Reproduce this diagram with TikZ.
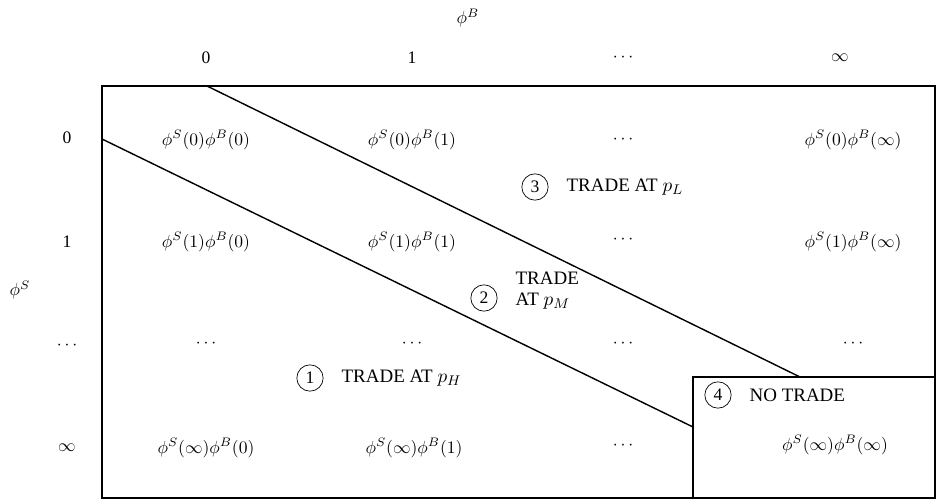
\documentclass[tikz,border=0pt]{standalone}
\usepackage{fontspec}
\setmainfont{Liberation Serif}
\usetikzlibrary{positioning}

\begin{document}
\begin{tikzpicture}[x=0.02cm,y=-0.02cm,
  frame/.style={line width=1pt},
  split/.style={line width=0.8pt},
  num/.style={draw,circle,inner sep=0pt,minimum size=15pt},
  lbl/.style={anchor=west,inner sep=1pt,align=left,font=\fontsize{10.8}{12}\selectfont}]
\useasboundingbox (0,0) rectangle (936,500);
% axes
\node (phiB) at (468,18) {$\phi^B$};
\node (phiS) at (20,290) {$\phi^S$};
\node (c0) at (206,58) {0};
\node (c1) at (412,58) {1};
\node (c2) at (623,58) {$\cdots$};
\node (c3) at (840,58) {$\infty$};
\node (r0) at (67,138) {0};
\node (r1) at (67,242) {1};
\node (r2) at (67,346) {$\cdots$};
\node (r3) at (67,448) {$\infty$};
% frame and regions
\draw[frame] (102,86) coordinate (tl) rectangle (935,498) coordinate (br);
\draw[frame] (693,377) coordinate (btl) rectangle (935,498) coordinate (bbr);
\coordinate (a1) at (102,139);
\coordinate (a2) at (693,427);
\coordinate (b1) at (207,86);
\coordinate (b2) at (800,377);
\draw[split] (a1) -- (a2);
\draw[split] (b1) -- (b2);
% cells
\node (s00) at (206,140) {$\phi^S(0)\phi^B(0)$};
\node (s01) at (412,140) {$\phi^S(0)\phi^B(1)$};
\node (s02) at (623,140) {$\cdots$};
\node (s03) at (853,140) {$\phi^S(0)\phi^B(\infty)$};
\node (s10) at (206,242) {$\phi^S(1)\phi^B(0)$};
\node (s11) at (412,242) {$\phi^S(1)\phi^B(1)$};
\node (s12) at (623,240) {$\cdots$};
\node (s13) at (853,242) {$\phi^S(1)\phi^B(\infty)$};
\node (s20) at (206,344) {$\cdots$};
\node (s21) at (412,344) {$\cdots$};
\node (s22) at (623,344) {$\cdots$};
\node (s23) at (853,344) {$\cdots$};
\node (s30) at (206,448) {$\phi^S(\infty)\phi^B(0)$};
\node (s31) at (414,448) {$\phi^S(\infty)\phi^B(1)$};
\node (s32) at (623,446) {$\cdots$};
\node (s33) at (835,445) {$\phi^S(\infty)\phi^B(\infty)$};
% region labels
\node[num] (n1) at (310,378) {1};
\node[lbl,right=0.32cm of n1] (t1) {TRADE AT $p_H$};
\node[num] (n2) at (484,298) {2};
\node[lbl,right=0.32cm of n2,yshift=4pt] (t2) {TRADE\\AT $p_M$};
\node[num] (n3) at (535,187) {3};
\node[lbl,right=0.32cm of n3] (t3) {TRADE AT $p_L$};
\node[num] (n4) at (718,395) {4};
\node[lbl,right=0.32cm of n4] (t4) {NO TRADE};
\end{tikzpicture}
\end{document}
